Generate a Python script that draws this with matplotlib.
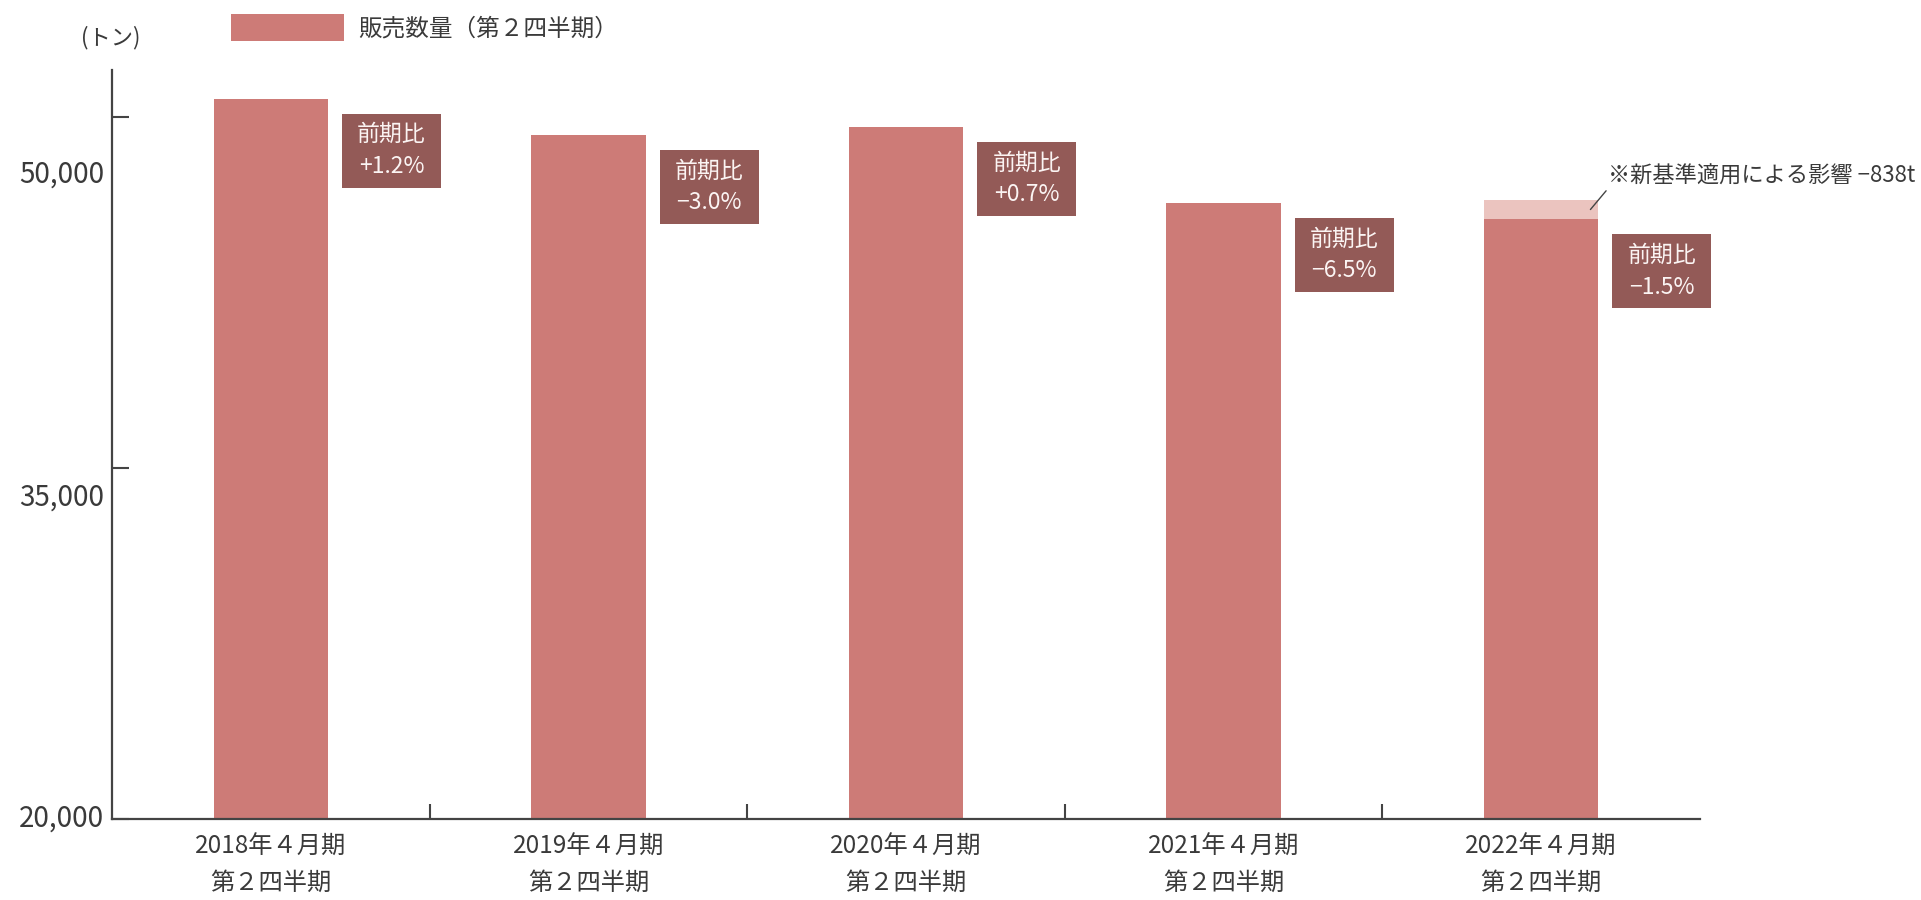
import matplotlib
matplotlib.use("Agg")
import matplotlib.pyplot as plt
import matplotlib.transforms as mtransforms
from matplotlib.patches import Rectangle
import numpy as np

plt.rcParams['font.family'] = ['Noto Sans CJK JP', 'DejaVu Sans']

# data (tons)
periods = ['2018年４月期', '2019年４月期', '2020年４月期', '2021年４月期', '2022年４月期']
quarter = '第２四半期'
sales = [50770, 49230, 49570, 46325, 45620]
new_std_effect = [0, 0, 0, 0, 838]
yoy = ['+1.2%', '−3.0%', '+0.7%', '−6.5%', '−1.5%']
yticks = [20000, 35000, 50000]
ytick_label_drop = [0, 30, 58]   # labels sit lower than their ticks in the original

bar_col = '#cd7b77'
light_col = '#ebc4bf'
box_col = '#935a57'
txt_col = '#3a3a3a'
axis_col = '#444444'

fig = plt.figure(figsize=(19.21, 9), dpi=100, facecolor='white')
ax = fig.add_axes([112/1921, 81/900, 1588/1921, 749/900])

x = np.arange(len(periods))
w = 0.36
ax.bar(x, sales, width=w, color=bar_col, label='販売数量（第２四半期）')
ax.bar(x, new_std_effect, width=w, bottom=sales, color=light_col)

ax.set_xlim(-0.5, len(periods) - 0.5)
ax.set_ylim(20000, 52000)

for s in ['top', 'right']:
    ax.spines[s].set_visible(False)
for s in ['left', 'bottom']:
    ax.spines[s].set_color(axis_col)
    ax.spines[s].set_linewidth(1.6)

# y ticks, labels drawn by hand
ax.set_yticks(yticks)
ax.set_yticklabels([])
ax.tick_params(axis='y', direction='in', length=12, width=1.5, color=axis_col)
for v, d in zip(yticks, ytick_label_drop):
    ax.annotate(f"{v:,}", xy=(0, v), xycoords=('axes fraction', 'data'),
                xytext=(-8, -d), textcoords='offset pixels', ha='right', va='center',
                fontsize=20, color=txt_col, annotation_clip=False)

# x ticks
ax.set_xticks(x)
ax.set_xticklabels([p + '\n' + quarter for p in periods], fontsize=17.5,
                   color=txt_col, linespacing=1.5)
ax.tick_params(axis='x', which='major', length=0, pad=11)
ax.set_xticks(x[:-1] + 0.5, minor=True)
ax.tick_params(axis='x', which='minor', direction='in', length=11, width=1.5, color=axis_col)

# yoy boxes
bw, bh = 99, 74
for i, (s, e, t) in enumerate(zip(sales, new_std_effect, yoy)):
    trans = mtransforms.Affine2D() + mtransforms.ScaledTranslation(x[i] + w/2, s, ax.transData)
    r = Rectangle((14, -15 - bh), bw, bh, transform=trans, facecolor=box_col,
                  edgecolor='none', clip_on=False)
    ax.add_patch(r)
    ax.annotate('前期比\n' + t, xy=(x[i] + w/2, s), xytext=(14 + bw/2, -15 - bh/2),
                textcoords='offset pixels', ha='center', va='center', color='#fbf4f3',
                fontsize=16.5, linespacing=1.5, annotation_clip=False)

# note on the new standard
ax.annotate('※新基準適用による影響 −838t', xy=(x[4] + 0.155, sales[4] + new_std_effect[4]/2),
            xytext=(18, 33), textcoords='offset pixels', ha='left', va='center',
            fontsize=16, color=txt_col, annotation_clip=False,
            arrowprops=dict(arrowstyle='-', color=axis_col, lw=1, shrinkA=0, shrinkB=0,
                            relpos=(0, 0)))

fig.text(111/1921, 1 - 38/900, '(トン)', ha='center', va='center', fontsize=16, color=txt_col)

ax.legend(loc='upper left', bbox_to_anchor=(231/1921, 1 - 14/900), bbox_transform=fig.transFigure,
          frameon=False, fontsize=17, handlelength=4.8, handleheight=1.35, handletextpad=0.6,
          borderpad=0, borderaxespad=0, labelcolor=txt_col)

fig.savefig('out.png', dpi=100, facecolor='white')
